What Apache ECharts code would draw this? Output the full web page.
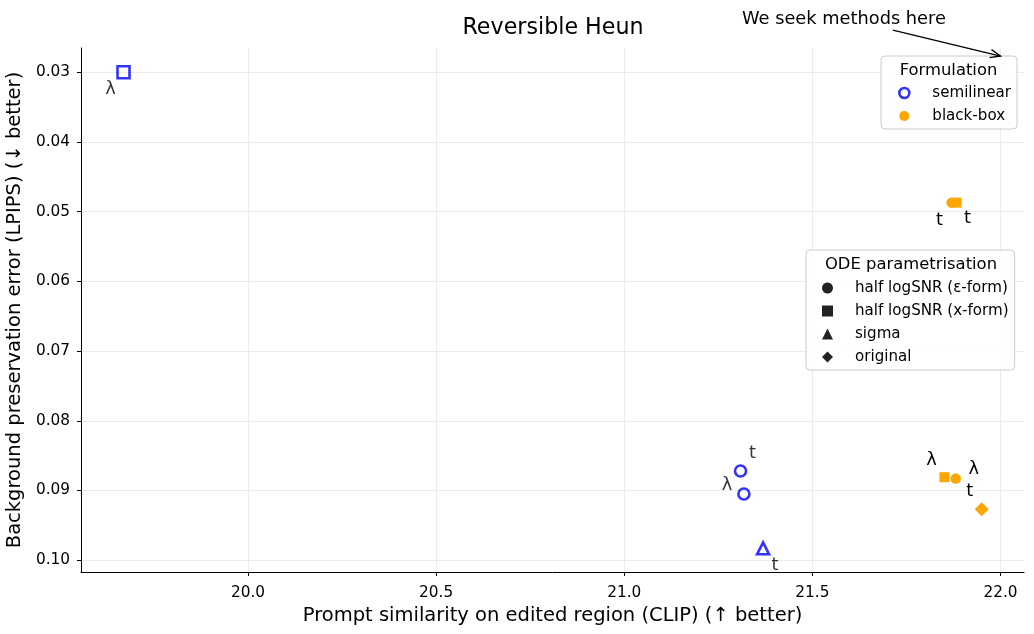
<!DOCTYPE html>
<html><head><meta charset="utf-8">
<script src="https://cdn.jsdelivr.net/npm/echarts@6/dist/echarts.min.js"></script>
<style>html,body{margin:0;padding:0;background:#fff}#chart{width:1034px;height:634px}</style>
</head><body><div id="chart"></div>
<script>
// ---- data ----
const clipScore = [19.669, 21.870, 21.883, 21.309, 21.318, 21.369, 21.851, 21.881, 21.950];
const lpipsError = [0.0300, 0.0487, 0.0487, 0.0872, 0.0905, 0.0983, 0.0881, 0.0883, 0.0927];
const formulation = ['semilinear','black-box','black-box','semilinear','semilinear','semilinear','black-box','black-box','black-box'];
const parametrisation = ['x','eps','x','eps','eps','sigma','x','eps','original'];
const pointLabels = ['λ','t','t','t','λ','t','λ','λ','t'];
const xTicks = [20.0, 20.5, 21.0, 21.5, 22.0];
const yTicks = [0.03, 0.04, 0.05, 0.06, 0.07, 0.08, 0.09, 0.10];
const formulationNames = ['semilinear', 'black-box'];
const parametrisationKeys = ['eps', 'x', 'sigma', 'original'];
const parametrisationNames = ['half logSNR (ε-form)', 'half logSNR (x-form)', 'sigma', 'original'];
const annotationText = 'We seek methods here';
const annotationTextAt = [21.584, 0.02235];
const annotationTail = [21.714, 0.02393];
const annotationTip = [22.0, 0.02766];

// ---- styles ----
const FONT = 'DejaVu Sans';
const BLUE = '#0000ff', ORANGE = '#ffa500', DARK = '#222222';
const labelOffsets = [[-13,17],[-12,18],[11,16],[12,-18],[-17,-9],[12,17],[-13,-17],[18,-9],[-12,-18]];
const shapeOf = {eps:'circle', x:'rect', sigma:'triangle', original:'diamond'};
const sizeOf = {
  semilinear: {circle:11, rect:12, triangle:12, diamond:13},
  'black-box': {circle:10.5, rect:10, triangle:11, diamond:14}
};

function buildSeries(form) {
  const data = [];
  clipScore.forEach((x, i) => {
    if (formulation[i] !== form) return;
    const sym = shapeOf[parametrisation[i]];
    data.push({
      value: [x, lpipsError[i], i],
      symbol: sym,
      symbolSize: sizeOf[form][sym],
      label: {offset: labelOffsets[i]}
    });
  });
  const open = form === 'semilinear';
  return {
    name: form, type: 'scatter', data: data, z: 5,
    itemStyle: open ? {color: 'rgba(0,0,0,0)', borderColor: BLUE, borderWidth: 2.6}
                    : {color: ORANGE, borderWidth: 0, opacity: 1},
    label: {show: true, position: 'inside', color: '#000', fontFamily: FONT, fontSize: 17.8,
            formatter: p => pointLabels[p.value[2]]},
    emphasis: {disabled: true}
  };
}

const series = formulationNames.map(buildSeries);
parametrisationNames.forEach(n => series.push({name: n, type: 'scatter', data: [], itemStyle: {color: DARK}}));

const legendBase = {
  orient: 'vertical', itemWidth: 11, itemHeight: 11, itemGap: 7,
  backgroundColor: 'rgba(255,255,255,0.85)', borderColor: '#cccccc', borderWidth: 1, borderRadius: 4,
  selectedMode: false,
  textStyle: {fontFamily: FONT, fontSize: 15.1, color: '#000', lineHeight: 16}
};

const chart = echarts.init(document.getElementById('chart'), null, {renderer: 'canvas'});
chart.setOption({
  animation: false,
  backgroundColor: '#fff',
  title: {text: 'Reversible Heun', left: 548, textAlign: 'center', top: 12,
          textStyle: {fontFamily: FONT, fontSize: 22.2, fontWeight: 'normal', color: '#000'}},
  grid: {left: 81, right: 10, top: 48, bottom: 62, containLabel: false, outerBoundsMode: 'none'},
  xAxis: {
    type: 'value', min: 19.556, max: 22.0625,
    name: 'Prompt similarity on edited region (CLIP) (↑ better)', nameLocation: 'middle', nameGap: 33,
    nameTextStyle: {fontFamily: FONT, fontSize: 19.5, color: '#000'},
    axisLine: {show: true, lineStyle: {color: '#000', width: 1}},
    axisTick: {show: true, inside: false, length: 4, lineStyle: {color: '#000'}, customValues: xTicks},
    axisLabel: {show: true, margin: 14, fontFamily: FONT, fontSize: 15.3, color: '#000',
                customValues: xTicks, formatter: v => v.toFixed(1)},
    splitLine: {show: true, lineStyle: {color: '#ebebeb', width: 1}}
  },
  yAxis: {
    type: 'value', inverse: true, min: 0.02651, max: 0.1017,
    name: 'Background preservation error (LPIPS) (↓ better)', nameLocation: 'middle', nameGap: 53,
    nameTextStyle: {fontFamily: FONT, fontSize: 19.5, color: '#000'},
    axisLine: {show: true, lineStyle: {color: '#000', width: 1}},
    axisTick: {show: true, inside: false, length: 4, lineStyle: {color: '#000'}, customValues: yTicks},
    axisLabel: {show: true, margin: 11, fontFamily: FONT, fontSize: 15.3, color: '#000',
                customValues: yTicks, formatter: v => v.toFixed(2)},
    splitLine: {show: true, lineStyle: {color: '#ebebeb', width: 1}}
  },
  legend: [
    Object.assign({}, legendBase, {
      left: 881, top: 56, padding: [29, 6, 5, 17],
      itemWidth: 10, itemHeight: 10,
      textStyle: Object.assign({}, legendBase.textStyle, {padding: [0, 0, 0, 18]}),
      data: [
        {name: 'semilinear', icon: 'circle', itemStyle: {color: 'rgba(0,0,0,0)', borderColor: BLUE, borderWidth: 2.6}},
        {name: 'black-box', icon: 'circle', itemStyle: {color: ORANGE, borderWidth: 0}}
      ]
    }),
    Object.assign({}, legendBase, {
      left: 806, top: 250, padding: [30, 6, 5, 16],
      textStyle: Object.assign({}, legendBase.textStyle, {padding: [0, 0, 0, 17]}),
      data: parametrisationNames.map((n, k) => ({name: n, icon: shapeOf[parametrisationKeys[k]],
        itemStyle: {color: DARK, borderWidth: 0, opacity: 1}}))
    })
  ],
  series: series
});

// annotation and legend titles, placed through the chart's own coordinate conversion
const tip = chart.convertToPixel({gridIndex: 0}, annotationTip);
const tail = chart.convertToPixel({gridIndex: 0}, annotationTail);
const txt = chart.convertToPixel({gridIndex: 0}, annotationTextAt);
const ang = Math.atan2(tip[1] - tail[1], tip[0] - tail[0]);
const headLen = 11, headW = 0.38;
const h1 = [tip[0] - headLen * Math.cos(ang - headW), tip[1] - headLen * Math.sin(ang - headW)];
const h2 = [tip[0] - headLen * Math.cos(ang + headW), tip[1] - headLen * Math.sin(ang + headW)];
chart.setOption({
  graphic: [
    {type: 'line', shape: {x1: tail[0], y1: tail[1], x2: tip[0], y2: tip[1]}, style: {stroke: '#000', lineWidth: 1.3}, z: 20},
    {type: 'polyline', shape: {points: [h1, tip, h2]}, style: {stroke: '#000', lineWidth: 1.3, fill: null}, z: 20},
    {type: 'text', x: txt[0], y: txt[1], style: {text: annotationText, fontFamily: FONT, fontSize: 17.8, fill: '#000', align: 'center', verticalAlign: 'middle'}, z: 20},
    {type: 'text', x: 948.5, y: 71, style: {text: 'Formulation', fontFamily: FONT, fontSize: 16.4, fill: '#000', align: 'center', verticalAlign: 'middle'}, z: 20},
    {type: 'text', x: 911, y: 265, style: {text: 'ODE parametrisation', fontFamily: FONT, fontSize: 16.4, fill: '#000', align: 'center', verticalAlign: 'middle'}, z: 20}
  ]
});
</script>
</body></html>
